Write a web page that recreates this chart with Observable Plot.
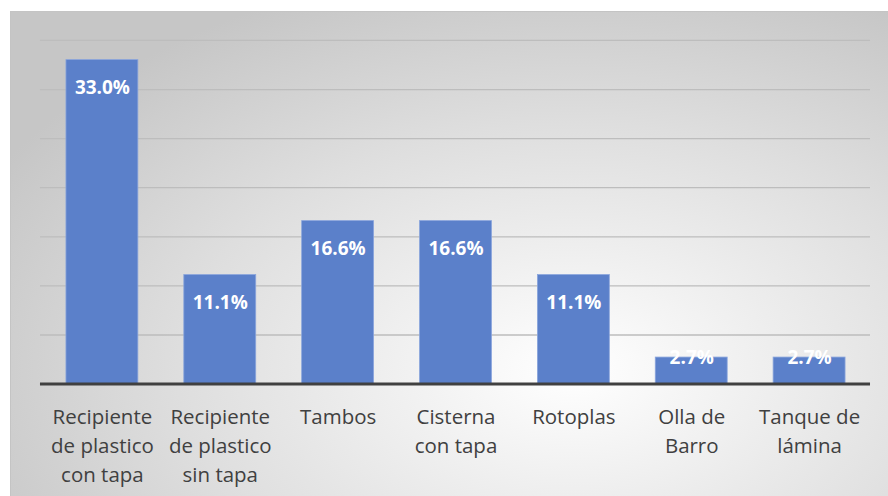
<!DOCTYPE html>
<html>
<head>
<meta charset="utf-8">
<script src="https://cdn.jsdelivr.net/npm/d3@7"></script>
<script src="https://cdn.jsdelivr.net/npm/@observablehq/plot@0.6"></script>
<style>
  html, body { margin: 0; padding: 0; background: #fff; }
  #wrap { position: absolute; left: 10px; top: 11px; width: 878px; height: 485px;
    border-top: 1px solid #c4c4c4; border-left: 1px solid #c4c4c4; box-sizing: border-box;
    background: radial-gradient(ellipse 75% 85% at 64% 74%, #ffffff 0%, #f1f1f1 25%, #dedede 60%, #c6c6c6 100%);
    overflow: hidden; }
  #wrap svg { position: absolute; left: -1px; top: -1px; }
</style>
</head>
<body>
<div id="wrap"></div>
<script>
const categories = [
  "Recipiente\nde plastico\ncon tapa",
  "Recipiente\nde plastico\nsin tapa",
  "Tambos",
  "Cisterna\ncon tapa",
  "Rotoplas",
  "Olla de\nBarro",
  "Tanque de\nlámina"
];
const values = [33.0, 11.1, 16.6, 16.6, 11.1, 2.7, 2.7];
const yTicks = [5, 10, 15, 20, 25, 30, 35];

const data = categories.map((c, i) => ({cat: c, value: values[i]}));

const chart = Plot.plot({
  width: 878,
  height: 485,
  marginLeft: 30,
  marginRight: 17,
  marginTop: 29,
  marginBottom: 112,
  style: {background: "transparent", fontFamily: "'Open Sans', sans-serif"},
  x: {domain: categories, paddingInner: 0.39, paddingOuter: 0.195, axis: null},
  y: {domain: [0, 35], axis: null},
  marks: [
    Plot.ruleY(yTicks, {stroke: "#bdbdbd", strokeWidth: 1.3}),
    Plot.barY(data, {x: "cat", y: "value", fill: "#5b80ca", stroke: "#8aa5dc", strokeWidth: 0.8}),
    Plot.ruleY([0], {stroke: "#404040", strokeWidth: 3}),
    Plot.text(data.filter(d => d.value > 5), {x: "cat", y: "value", text: d => d.value.toFixed(1) + "%",
      fill: "white", fontWeight: "bold", fontSize: 19, dy: 28}),
    Plot.text(data.filter(d => d.value <= 5), {x: "cat", y: "value", text: d => d.value.toFixed(1) + "%",
      fill: "white", fontWeight: "bold", fontSize: 19, dy: 0}),
    Plot.text(data, {x: "cat", text: "cat", frameAnchor: "bottom", lineAnchor: "top",
      dy: 19, fontSize: 20.5, lineHeight: 1.42, fill: "#404040"})
  ]
});
document.getElementById("wrap").appendChild(chart);
</script>
</body>
</html>
